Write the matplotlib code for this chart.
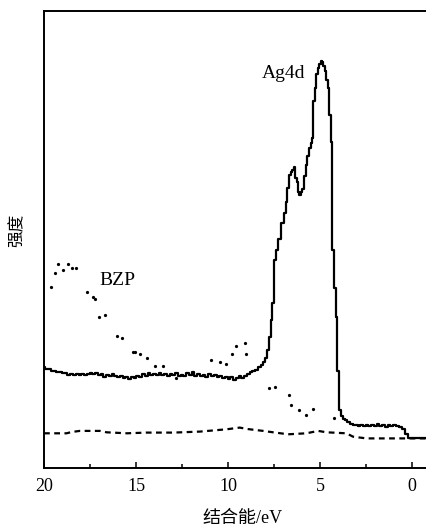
import matplotlib
matplotlib.use("Agg")
import matplotlib.pyplot as plt
from matplotlib.ticker import MultipleLocator

# ---- data (binding energy in eV, intensity in arbitrary units) ----
ag_ev = [20.0, 19.85, 19.7, 19.55, 19.4, 19.25, 19.1, 18.95, 18.8, 18.65, 18.5, 18.35, 18.2, 18.05,
         17.9, 17.75, 17.6, 17.45, 17.3, 17.15, 17.0, 16.85, 16.7, 16.55, 16.4, 16.25, 16.1, 15.95,
         15.8, 15.65, 15.5, 15.35, 15.2, 15.05, 14.9, 14.75, 14.6, 14.45, 14.3, 14.15, 14.0, 13.85,
         13.7, 13.55, 13.4, 13.25, 13.1, 12.95, 12.8, 12.65, 12.5, 12.35, 12.2, 12.05, 11.9, 11.75,
         11.6, 11.45, 11.3, 11.15, 11.0, 10.85, 10.7, 10.55, 10.4, 10.25, 10.1, 9.95, 9.8, 9.65,
         9.5, 9.35, 9.2, 9.05, 8.9, 8.75, 8.6, 8.45, 8.3, 8.15, 8.05, 7.95, 7.85, 7.73, 7.64, 7.55,
         7.46, 7.35, 7.19, 7.0, 6.9, 6.82, 6.72, 6.64, 6.55, 6.45, 6.37, 6.3, 6.23, 6.15, 6.1, 6.0,
         5.92, 5.83, 5.74, 5.65, 5.56, 5.47, 5.38, 5.34, 5.25, 5.16, 5.08, 5.01, 4.93, 4.87, 4.78,
         4.69, 4.62, 4.56, 4.47, 4.38, 4.29, 4.2, 4.11, 4.02, 3.93, 3.8, 3.67, 3.57, 3.45, 3.3,
         3.15, 3.02, 2.9, 2.75, 2.6, 2.45, 2.3, 2.15, 2.0, 1.85, 1.7, 1.55, 1.4, 1.25, 1.1, 0.95,
         0.8, 0.6, 0.45, 0.3, 0.16, 0.0, -0.3, -0.55, -0.815]
ag_int = [101, 99, 99.5, 97, 97.5, 96, 96.5, 95, 95.5, 93.5, 94.5, 93, 94, 93.5,
          94.5, 93, 94, 95, 94, 95.5, 93.5, 94.5, 91, 93.5, 92.5, 94, 92.5, 91.5,
          92.5, 90.5, 91, 89.5, 91.5, 90, 92.5, 91.5, 94, 92.5, 95, 93, 94.5, 93,
          95, 93.5, 94, 92.5, 94.5, 93, 95, 92, 93.5, 92.5, 95, 93, 96, 92,
          94, 92.5, 93.5, 91.5, 94, 92, 93, 91, 92, 90.5, 91.5, 89.5, 91, 88.5,
          90.5, 92, 90, 92.5, 94, 96, 97, 98.5, 101, 103, 106, 110, 118, 131, 148, 165,
          208, 218, 229, 245, 255, 266, 280, 293, 296, 298, 301, 290, 286, 276, 273, 276,
          279, 292, 303, 312, 320, 325, 330, 367, 380, 394, 400, 404, 407, 406, 402,
          397, 388, 380, 353, 326, 218, 180, 151, 97, 58, 52, 49, 48, 46, 44.5,
          43, 43, 42.5, 43.5, 42.5, 43, 42, 43.5, 42, 44, 42.5, 43, 41.5, 43.5, 42, 43,
          42, 41, 39, 34, 30, 30, 30.5, 30, 30]

base_ev = [20.0, 18.77, 18.5, 18.05, 16.96, 16.6, 15.5, 14.43, 12.98, 11.53, 10.08, 9.36, 9.0,
           8.09, 7.55, 6.73, 5.74, 5.1, 4.65, 3.57, 3.2, 2.48, 1.5, 0.5, -0.815]
base_int = [34.7, 34.7, 36.0, 37.1, 37.1, 35.7, 34.7, 35.4, 35.4, 36.4, 38.7, 40.4, 39.1,
            37.1, 35.7, 33.7, 34.7, 37.1, 35.7, 34.7, 31.3, 29.6, 29.6, 29.6, 29.6]

bzp_ev = [19.64, 19.40, 19.22, 18.98, 18.68, 18.50, 18.26, 17.68, 17.32, 17.23, 17.0, 16.69,
          16.02, 15.78, 15.18, 15.06, 14.79, 14.42, 13.97, 13.52, 12.80, 10.90, 10.45, 10.12,
          9.76, 9.54, 9.09, 9.0, 7.77, 7.46, 6.68, 6.55, 6.14, 5.78, 5.38, 4.24]
bzp_int = [181.3, 194.7, 204, 198, 204, 199.7, 199.7, 175.7, 171.3, 169, 150.7, 153,
           132.3, 130.3, 115.7, 115.7, 114, 109.7, 102, 102, 89.7, 108, 105.7, 104,
           114, 122.3, 124.7, 114, 79.7, 81.3, 73, 63, 58, 53, 58.7, 50.3]

x_major = [20, 15, 10, 5, 0]
x_labels = ["20", "15", "10", "5", "0"]

serif = ["Liberation Serif", "DejaVu Serif"]
cjk = ["Liberation Serif", "Noto Sans CJK SC", "DejaVu Sans"]

fig = plt.figure(figsize=(4.27, 5.29), dpi=100)
ax = fig.add_axes([44 / 427, 61 / 529, 383 / 427, 457 / 529])

ax.plot(ag_ev, ag_int, color="black", lw=1.6, drawstyle="steps-mid")
ax.plot(base_ev, base_int, color="black", lw=1.6, linestyle=(0, (2.6, 2.0)))
ax.plot(bzp_ev, bzp_int, linestyle="none", marker="o", ms=1.3, color="black")

ax.set_xlim(20, -0.815)
ax.set_ylim(0, 457)

ax.set_xticks(x_major)
ax.set_xticklabels(x_labels, fontfamily=serif, fontsize=13)
ax.xaxis.set_minor_locator(MultipleLocator(2.5))
ax.tick_params(axis="x", which="major", direction="in", length=4.3, width=1.1, pad=7)
ax.tick_params(axis="x", which="minor", direction="in", length=2.9, width=1.1)
ax.set_yticks([])

for side in ["left", "bottom", "top"]:
    ax.spines[side].set_linewidth(1.4)
ax.spines["right"].set_visible(False)

ax.text(8.15, 394, "Ag4d", fontfamily=serif, fontsize=14, ha="left", va="center")
ax.text(17.0, 187.5, "BZP", fontfamily=serif, fontsize=14, ha="left", va="center")

fig.text(243 / 427, 1 - 518.5 / 529, "结合能/eV", family=cjk, fontsize=13, ha="center", va="center")
fig.text(17.5 / 427, 1 - 230 / 529, "强度", family=cjk, fontsize=12, ha="center", va="center",
         rotation=90)

fig.savefig("out.png", dpi=100)
